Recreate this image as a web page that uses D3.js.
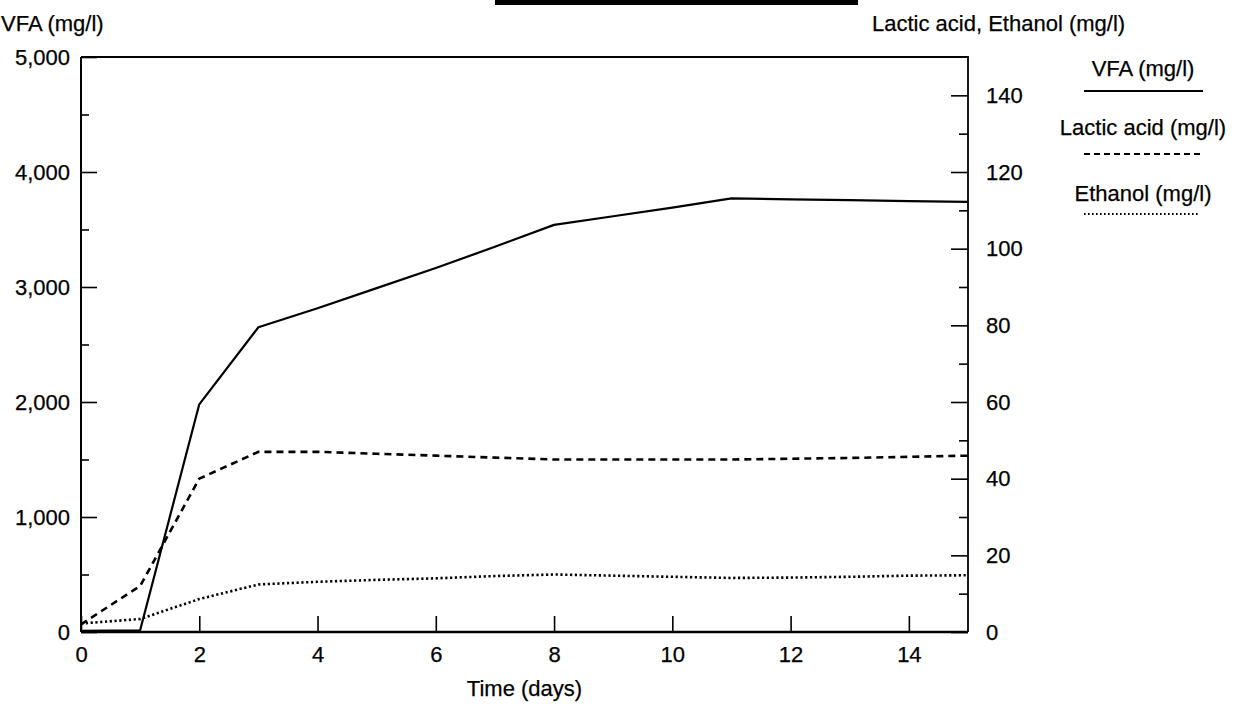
<!DOCTYPE html>
<html>
<head>
<meta charset="utf-8">
<script src="https://cdn.jsdelivr.net/npm/d3@7"></script>
<style>
  html, body { margin: 0; padding: 0; background: #fff; }
  svg { display: block; }
  text { font-family: "Liberation Sans", Arial, Helvetica, sans-serif; fill: #000; stroke: #000; stroke-width: 0.25px; }
</style>
</head>
<body>
<svg id="chart" width="1247" height="704"></svg>
<script>
// ---- Data ----
const days = [0, 1, 2, 3, 4, 5, 6, 7, 8, 9, 10, 11, 12, 13, 14, 15];
const vfa = [10, 15, 1980, 2650, 2815, 2990, 3165, 3350, 3540, 3615, 3690, 3770, 3762, 3755, 3747, 3740];
const lactic = [2, 12, 40, 47, 47, 46.5, 46, 45.5, 45, 45, 45, 45, 45.2, 45.4, 45.7, 46];
const ethanol = [2.2, 3.4, 8.6, 12.4, 13.1, 13.6, 14.0, 14.6, 15.0, 14.7, 14.4, 14.1, 14.2, 14.4, 14.7, 14.8];

const xTicks = [0, 2, 4, 6, 8, 10, 12, 14];
const leftTicks = [0, 1000, 2000, 3000, 4000, 5000];
const leftMinor = [500, 1500, 2500, 3500, 4500];
const rightTicks = [0, 20, 40, 60, 80, 100, 120, 140];
const rightMinor = [10, 30, 50, 70, 90, 110, 130];

const leftTitle = "VFA (mg/l)";
const rightTitle = "Lactic acid, Ethanol (mg/l)";
const xTitle = "Time (days)";
const legendLabels = ["VFA (mg/l)", "Lactic acid (mg/l)", "Ethanol (mg/l)"];

// ---- Layout ----
const L = 81, R = 968, T = 57, B = 632;
const svg = d3.select("#chart");
const fs = 22;

const x = d3.scaleLinear().domain([0, 15]).range([L, R]);
const yL = d3.scaleLinear().domain([0, 5000]).range([B, T]);
const yR = d3.scaleLinear().domain([0, 150]).range([B, T]);

// top black bar (cropped title rule)
svg.append("rect").attr("x", 495).attr("y", 0).attr("width", 363).attr("height", 5).attr("fill", "#000");

// ---- Axes ----
function styleAxis(g) {
  g.select(".domain").remove();
  g.selectAll(".tick line").attr("stroke", "#000").attr("stroke-width", 1.6);
  g.selectAll(".tick text").style("font-size", fs + "px").attr("fill", "#000");
}

svg.append("g").attr("transform", `translate(${L},0)`)
  .call(d3.axisLeft(yL).tickValues(leftTicks).tickFormat(d3.format(",")).tickSizeInner(-16).tickSizeOuter(0).tickPadding(11))
  .call(styleAxis);
svg.append("g").attr("transform", `translate(${L},0)`)
  .call(d3.axisLeft(yL).tickValues(leftMinor).tickFormat("").tickSizeInner(-8).tickSizeOuter(0))
  .call(styleAxis);

svg.append("g").attr("transform", `translate(${R},0)`)
  .call(d3.axisRight(yR).tickValues(rightTicks).tickFormat(d3.format("d")).tickSizeInner(-17).tickSizeOuter(0).tickPadding(18))
  .call(styleAxis);
svg.append("g").attr("transform", `translate(${R},0)`)
  .call(d3.axisRight(yR).tickValues(rightMinor).tickFormat("").tickSizeInner(-9).tickSizeOuter(0))
  .call(styleAxis);

svg.append("g").attr("transform", `translate(0,${B})`)
  .call(d3.axisBottom(x).tickValues(xTicks).tickFormat(d3.format("d")).tickSizeInner(-16).tickSizeOuter(0).tickPadding(14))
  .call(styleAxis);

// frame
svg.append("path")
  .attr("d", `M${L},${T}H${R}V${B}`)
  .attr("fill", "none").attr("stroke", "#000").attr("stroke-width", 1.8);
svg.append("path")
  .attr("d", `M${L},${T}V${B}`)
  .attr("fill", "none").attr("stroke", "#000").attr("stroke-width", 2);
svg.append("path")
  .attr("d", `M${L},${B}H${R}`)
  .attr("fill", "none").attr("stroke", "#000").attr("stroke-width", 2.6);

// ---- Titles ----
svg.append("text").attr("x", 1).attr("y", 31).style("font-size", fs + "px").text(leftTitle);
svg.append("text").attr("x", 872).attr("y", 31).style("font-size", fs + "px").text(rightTitle);
svg.append("text").attr("x", (L + R) / 2).attr("y", 696).attr("text-anchor", "middle").style("font-size", fs + "px").text(xTitle);

// ---- Series ----
const lineL = d3.line().x((d, i) => x(days[i])).y(d => yL(d));
const lineR = d3.line().x((d, i) => x(days[i])).y(d => yR(d));

svg.append("path").datum(vfa).attr("d", lineL)
  .attr("fill", "none").attr("stroke", "#000").attr("stroke-width", 2.2).attr("stroke-linejoin", "round");
svg.append("path").datum(lactic).attr("d", lineR)
  .attr("fill", "none").attr("stroke", "#000").attr("stroke-width", 2.6).attr("stroke-dasharray", "7,5");
svg.append("path").datum(ethanol).attr("d", lineR)
  .attr("fill", "none").attr("stroke", "#000").attr("stroke-width", 2.6).attr("stroke-dasharray", "2.2,2.6");

// ---- Legend ----
const legendY = [76, 135, 201];
const legendLineY = [91, 154, 214];
const legendDash = [null, "6,4", "1.6,2.4"];
const legendW = [1.8, 2.2, 1.8];
legendLabels.forEach((lab, i) => {
  svg.append("text").attr("x", 1143).attr("y", legendY[i]).attr("text-anchor", "middle")
    .style("font-size", fs + "px").text(lab);
  const ln = svg.append("line").attr("x1", 1084).attr("x2", i === 2 ? 1199 : 1203)
    .attr("y1", legendLineY[i]).attr("y2", legendLineY[i])
    .attr("stroke", "#000").attr("stroke-width", legendW[i]);
  if (legendDash[i]) ln.attr("stroke-dasharray", legendDash[i]);
});
</script>
</body>
</html>
